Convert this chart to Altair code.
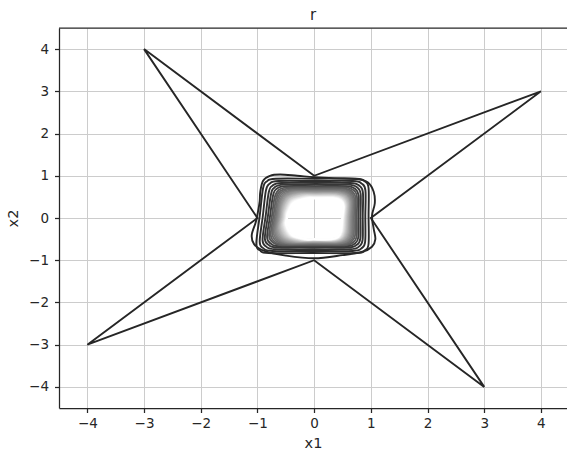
import altair as alt
import pandas as pd

# Initial polygon (star), closed through its 8 vertices
star_x = [-3, 0, 4, 1, 3, 0, -4, -1]
star_y = [4, 1, 3, 0, -4, -1, -3, 0]

# First evolved curve: wavy closed loop around the origin
outer_x = [-0.95, -0.90, -0.78, -0.60, -0.30, 0.00, 0.35, 0.75, 0.95, 1.05, 1.07, 1.02,
           1.05, 1.08, 1.02, 0.85, 0.50, 0.00, -0.50, -0.88, -1.06, -1.10, -1.03, -0.99, -0.96]
outer_y = [0.62, 0.88, 1.00, 1.03, 1.00, 0.965, 0.94, 0.925, 0.84, 0.62, 0.35, 0.05,
           -0.25, -0.50, -0.68, -0.80, -0.88, -0.955, -0.89, -0.78, -0.62, -0.40, -0.10, 0.15, 0.40]
outer_shade = "#262626"

# Later curves: nested rounded loops, outermost first
ring_top = [0.93, 0.875, 0.83, 0.79, 0.755,
            0.725, 0.700, 0.677, 0.656, 0.637, 0.620, 0.604, 0.590, 0.577, 0.565,
            0.553, 0.542, 0.532, 0.522, 0.512, 0.503, 0.494, 0.486, 0.478, 0.470, 0.463]
ring_bottom = [-0.83, -0.78, -0.74, -0.70, -0.67,
               -0.645, -0.628, -0.613, -0.600, -0.588, -0.577, -0.567, -0.558, -0.550, -0.542,
               -0.535, -0.529, -0.523, -0.518, -0.514, -0.510, -0.507, -0.504, -0.502, -0.501, -0.500]
ring_left_hi = [-0.90, -0.85, -0.80, -0.76, -0.725,
                -0.695, -0.670, -0.648, -0.628, -0.610, -0.594, -0.579, -0.566, -0.554, -0.543,
                -0.533, -0.523, -0.514, -0.505, -0.497, -0.490, -0.483, -0.477, -0.472, -0.467, -0.463]
ring_left_lo = [-1.02, -0.96, -0.91, -0.87, -0.83,
                -0.795, -0.765, -0.738, -0.714, -0.692, -0.672, -0.654, -0.637, -0.621, -0.606,
                -0.592, -0.579, -0.566, -0.554, -0.543, -0.532, -0.522, -0.513, -0.505, -0.499, -0.494]
ring_right_hi = [0.96, 0.905, 0.86, 0.82, 0.785,
                 0.755, 0.730, 0.707, 0.687, 0.669, 0.653, 0.638, 0.624, 0.611, 0.599,
                 0.588, 0.577, 0.567, 0.558, 0.549, 0.541, 0.534, 0.528, 0.523, 0.519, 0.515]
ring_right_lo = [0.96, 0.90, 0.855, 0.815, 0.78,
                 0.75, 0.723, 0.698, 0.675, 0.654, 0.635, 0.617, 0.601, 0.586, 0.572,
                 0.559, 0.547, 0.536, 0.525, 0.515, 0.506, 0.497, 0.489, 0.482, 0.476, 0.470]
# corner rounding on the left-hand and right-hand corners of each loop
ring_corner_left = [0.22, 0.22, 0.22, 0.22, 0.22,
                    0.23, 0.23, 0.24, 0.25, 0.26, 0.26, 0.27, 0.28, 0.29, 0.29,
                    0.30, 0.31, 0.31, 0.32, 0.33, 0.33, 0.34, 0.34, 0.35, 0.35, 0.36]
ring_corner_right = [0.22, 0.22, 0.22, 0.22, 0.22,
                     0.22, 0.22, 0.22, 0.22, 0.21, 0.21, 0.21, 0.21, 0.20, 0.20,
                     0.20, 0.20, 0.20, 0.19, 0.19, 0.19, 0.19, 0.19, 0.18, 0.18, 0.18]
ring_shade = ["#2a2a2a", "#2e2e2e", "#323232", "#373737", "#3d3d3d",
              "#565656", "#606060", "#6a6a6a", "#747474", "#7e7e7e", "#888888", "#929292",
              "#9c9c9c", "#a6a6a6", "#b0b0b0", "#b9b9b9", "#c2c2c2", "#cbcbcb", "#d3d3d3",
              "#dbdbdb", "#e3e3e3", "#eaeaea", "#f0f0f0", "#f6f6f6", "#fbfbfb", "#ffffff"]

ticks = [-4, -3, -2, -1, 0, 1, 2, 3, 4]
INK = "#262626"


def ring_outline(t, b, lh, ll, rh, rl, cl, cr):
    """Rounded outline through the edge positions of one loop (clockwise)."""
    kl, kr = 0.29 * cl, 0.29 * cr
    return [
        (lh + cl, t), ((lh + rh) / 2, t), (rh - cr, t), (rh - kr, t - kr), (rh, t - cr),
        ((rh + rl) / 2, (t + b) / 2), (rl, b + cr), (rl - kr, b + kr), (rl - cr, b),
        ((ll + rl) / 2, b), (ll + cl, b), (ll + kl, b + kl), (ll, b + cl),
        ((lh + ll) / 2, (t + b) / 2), (lh, t - cl), (lh + kl, t - kl),
    ]


star_df = pd.DataFrame({"x": star_x, "y": star_y, "k": range(len(star_x))})

rows = []
for j, (x, y) in enumerate(zip(outer_x, outer_y)):
    rows.append({"curve": 0, "k": j, "x": x, "y": y, "shade": outer_shade})
for i in range(len(ring_top)):
    pts = ring_outline(ring_top[i], ring_bottom[i], ring_left_hi[i], ring_left_lo[i],
                       ring_right_hi[i], ring_right_lo[i],
                       ring_corner_left[i], ring_corner_right[i])
    for j, (x, y) in enumerate(pts):
        rows.append({"curve": i + 1, "k": j, "x": x, "y": y, "shade": ring_shade[i]})
loops_df = pd.DataFrame(rows)

x_scale = alt.Scale(domain=[-4.5, 4.46], nice=False, zero=False)
y_scale = alt.Scale(domain=[-4.5, 4.5], nice=False, zero=False)
x_axis = alt.Axis(values=ticks, format="d", title="x1", labelPadding=4, titlePadding=6)
y_axis = alt.Axis(values=ticks, format="d", title="x2", labelPadding=6, titlePadding=8)

star = alt.Chart(star_df).mark_line(
    interpolate="linear-closed", color=INK, strokeWidth=1.9
).encode(
    x=alt.X("x:Q", scale=x_scale, axis=x_axis),
    y=alt.Y("y:Q", scale=y_scale, axis=y_axis),
    order="k:Q",
)

loops = alt.Chart(loops_df).mark_line(
    interpolate="cardinal-closed", strokeWidth=1.9
).encode(
    x=alt.X("x:Q", scale=x_scale),
    y=alt.Y("y:Q", scale=y_scale),
    detail="curve:N",
    order="k:Q",
    color=alt.Color("shade:N", scale=None),
)

top_edge = alt.Chart(pd.DataFrame({"v": [0]})).mark_rule(
    color=INK, strokeWidth=1.25
).encode(x=alt.value(0), x2=alt.value(508), y=alt.value(0))

chart = alt.layer(star, loops, top_edge).properties(
    width=508,
    height=380,
    title=alt.TitleParams("r", font="DejaVu Sans", fontSize=15, fontWeight="normal",
                          color=INK, frame="group", anchor="middle", offset=4),
    autosize=alt.AutoSizeParams(type="none"),
    padding={"left": 59, "top": 28, "right": 0, "bottom": 44},
).configure_view(
    stroke=None
).configure_axis(
    domainColor=INK, domainWidth=1.25, tickColor=INK, tickWidth=1.25, tickSize=4.5,
    labelFont="DejaVu Sans", labelFontSize=13.5, labelColor=INK,
    titleFont="DejaVu Sans", titleFontSize=14.5, titleFontWeight="normal", titleColor=INK,
    gridColor="#cccccc", gridWidth=1,
)

chart.save("out.html", embed_options={"renderer": "svg", "actions": False})
